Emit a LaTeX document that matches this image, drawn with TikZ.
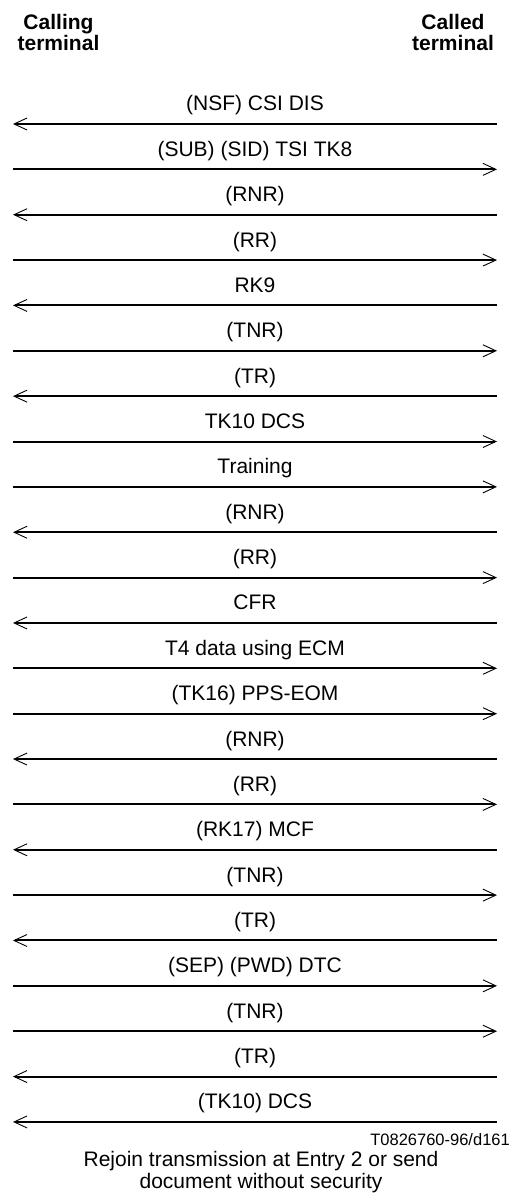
\documentclass[tikz,border=0pt]{standalone}
\usepackage{fontspec}
\setmainfont{Liberation Sans}
\usetikzlibrary{arrows.meta}
\tikzset{
  barb/.tip={Straight Barb[length=13pt,width=12pt,line width=0.9pt]},
  arrL/.style={barb-, line width=2pt},
  arrR/.style={-barb, line width=2pt},
  msglabel/.style={anchor=base, inner sep=0pt, font=\fontsize{21}{22}\selectfont},
  hdr/.style={anchor=north, inner sep=0pt, align=center, font=\fontsize{21}{21.5}\selectfont\bfseries},
  foot/.style={anchor=north, inner sep=0pt, align=center, font=\fontsize{21}{21.7}\selectfont},
  ref/.style={anchor=base east, inner sep=0pt, font=\fontsize{16.5}{18}\selectfont}
}
\begin{document}
\begin{tikzpicture}[x=1pt,y=-1pt]
\useasboundingbox (0,0) rectangle (511,1198);
\node[hdr] (calling) at (58.5,14) {Calling\\terminal};
\node[hdr] (called) at (453,14) {Called\\terminal};
\foreach \i/\d/\t in {
  1/L/{(NSF) CSI DIS},
  2/R/{(SUB) (SID) TSI TK8},
  3/L/{(RNR)},
  4/R/{(RR)},
  5/L/{RK9},
  6/R/{(TNR)},
  7/L/{(TR)},
  8/R/{TK10 DCS},
  9/R/{Training},
  10/L/{(RNR)},
  11/R/{(RR)},
  12/L/{CFR},
  13/R/{T4 data using ECM},
  14/R/{(TK16) PPS-EOM},
  15/L/{(RNR)},
  16/R/{(RR)},
  17/L/{(RK17) MCF},
  18/R/{(TNR)},
  19/L/{(TR)},
  20/R/{(SEP) (PWD) DTC},
  21/R/{(TNR)},
  22/L/{(TR)},
  23/L/{(TK10) DCS}} {
  \pgfmathsetmacro\yy{124+(\i-1)*45.36}
  \coordinate (l\i) at (13,\yy);
  \coordinate (r\i) at (497,\yy);
  \draw[arr\d] (l\i) -- (r\i);
  \node[msglabel] (t\i) at (255,\yy-13) {\t};
}
\node[ref] (code) at (510,1145) {T0826760-96/d161};
\node[foot] (note) at (261,1151) {Rejoin transmission at Entry 2 or send\\document without security};
\end{tikzpicture}
\end{document}
